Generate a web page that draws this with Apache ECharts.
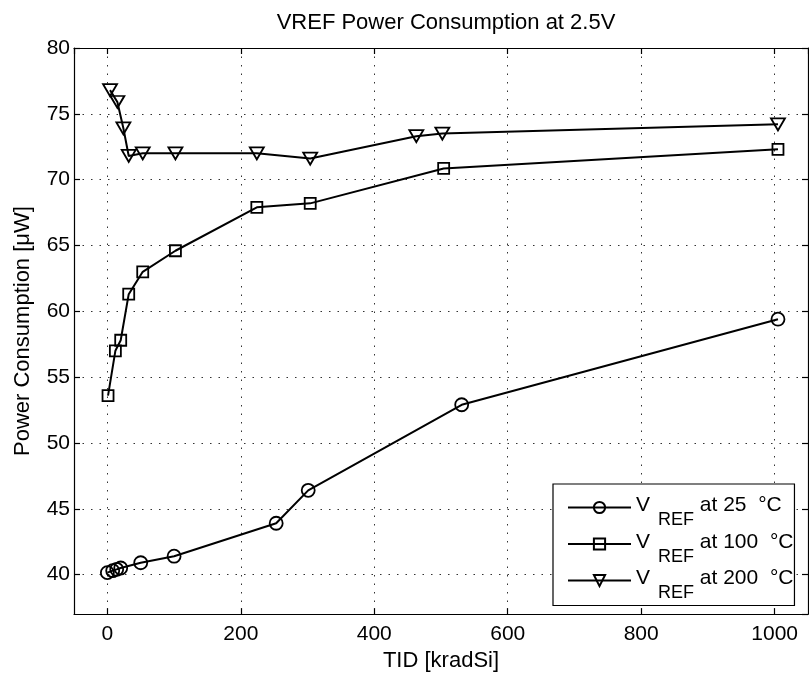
<!DOCTYPE html>
<html>
<head>
<meta charset="utf-8">
<script src="https://cdn.jsdelivr.net/npm/echarts@6/dist/echarts.min.js"></script>
<style>
html,body{margin:0;padding:0;background:#fff;}
#chart{width:809px;height:677px;}
</style>
</head>
<body>
<div id="chart"></div>
<script>
const titleText = 'VREF Power Consumption at 2.5V';
const xName = 'TID [kradSi]';
const yName = 'Power Consumption [\u03bcW]';
const seriesNames = ['at 25  \u00b0C', 'at 100  \u00b0C', 'at 200  \u00b0C'];
const tid25 = [0, 8, 14, 20, 50, 100, 253, 301, 531, 1005];
const pwr25 = [40.15, 40.3, 40.4, 40.5, 40.9, 41.4, 43.9, 46.4, 52.9, 59.4];
const tid100 = [1, 12, 20, 32, 53, 102, 224, 304, 504, 1005];
const pwr100 = [53.6, 57.0, 57.8, 61.3, 63.0, 64.6, 67.9, 68.2, 70.85, 72.3];
const tid200 = [4, 15, 24, 32, 53, 102, 224, 304, 463, 502, 1005];
const pwr200 = [76.8, 75.9, 73.9, 71.8, 72.0, 72.0, 72.0, 71.6, 73.3, 73.5, 74.2];

const FONT = 'Liberation Sans';
function pairs(xs, ys){ return xs.map((x,i)=>[x, ys[i]]); }

const chart = echarts.init(document.getElementById('chart'), null, {renderer:'canvas'});
const gridLine = {show:true, lineStyle:{color:'#333', type:[1.5,7], width:1}};
const commonAxisLine = {show:true, onZero:false, lineStyle:{color:'#000', width:1.2}};
const tickStyle = {show:true, inside:true, length:6, lineStyle:{color:'#000', width:1.2}};
const lineSeries = (name, data, symbol, size, rot) => ({
  name: name, type:'line', data: data,
  symbol: symbol, symbolSize: size, symbolRotate: rot,
  showAllSymbol: true,
  lineStyle:{color:'#000', width:2},
  itemStyle:{color:'rgba(0,0,0,0)', borderColor:'#000', borderWidth:1.8},
  emphasis:{disabled:true},
  animation:false, z: 3
});

chart.setOption({
  backgroundColor:'#fff',
  animation:false,
  title:{text:titleText, left:441, textAlign:'center', top:7,
    textStyle:{fontFamily:FONT, fontSize:22, fontWeight:'normal', color:'#000'}},
  grid:{left:74, right:1, top:48, bottom:60, containLabel:false},
  legend:{
    orient:'vertical', left:553, top:484,
    backgroundColor:'#fff', borderColor:'#000', borderWidth:1.2,
    padding:[11,1,3,14], itemGap:2, itemWidth:63, itemHeight:14,
    symbolRotate:'inherit',
    data: seriesNames,
    formatter: function(n){ return '{v|V}{s|REF}{t| ' + n + '}'; },
    textStyle:{fontFamily:FONT, color:'#000',
      rich:{
        v:{fontFamily:FONT, fontSize:21, padding:[0,8,4,0], color:'#000'},
        s:{fontFamily:FONT, fontSize:18, padding:[26,0,0,0], color:'#000'},
        t:{fontFamily:FONT, fontSize:21, padding:[0,0,4,0], color:'#000'}
      }}
  },
  xAxis:[{
    type:'value', min:-50, max:1050, minInterval:200, maxInterval:200,
    position:'bottom',
    name:xName, nameLocation:'middle', nameGap:30,
    nameTextStyle:{fontFamily:FONT, fontSize:22, color:'#000', verticalAlign:'top'},
    axisLine:commonAxisLine,
    axisTick:tickStyle,
    axisLabel:{fontFamily:FONT, fontSize:21, color:'#000', margin:10, showMinLabel:false, showMaxLabel:false,
      formatter: v => String(v)},
    splitLine:gridLine
  },{
    type:'value', min:-50, max:1050, minInterval:200, maxInterval:200,
    position:'top',
    axisLine:commonAxisLine,
    axisTick:tickStyle,
    axisLabel:{show:false}, splitLine:{show:false}
  }],
  yAxis:[{
    type:'value', min:37, max:80, minInterval:5, maxInterval:5,
    position:'left',
    name:yName, nameLocation:'middle', nameGap:40, nameRotate:90,
    nameTextStyle:{fontFamily:FONT, fontSize:22, color:'#000'},
    axisLine:commonAxisLine,
    axisTick:tickStyle,
    axisLabel:{fontFamily:FONT, fontSize:21, color:'#000', margin:4, showMinLabel:false},
    splitLine:gridLine
  },{
    type:'value', min:37, max:80, minInterval:5, maxInterval:5,
    position:'right',
    axisLine:commonAxisLine,
    axisTick:tickStyle,
    axisLabel:{show:false}, splitLine:{show:false}
  }],
  series:[
    lineSeries(seriesNames[0], pairs(tid25, pwr25), 'circle', 13, 0),
    lineSeries(seriesNames[1], pairs(tid100, pwr100), 'rect', 11, 0),
    lineSeries(seriesNames[2], pairs(tid200, pwr200), 'triangle', [14,12], 180)
  ]
});
</script>
</body>
</html>
